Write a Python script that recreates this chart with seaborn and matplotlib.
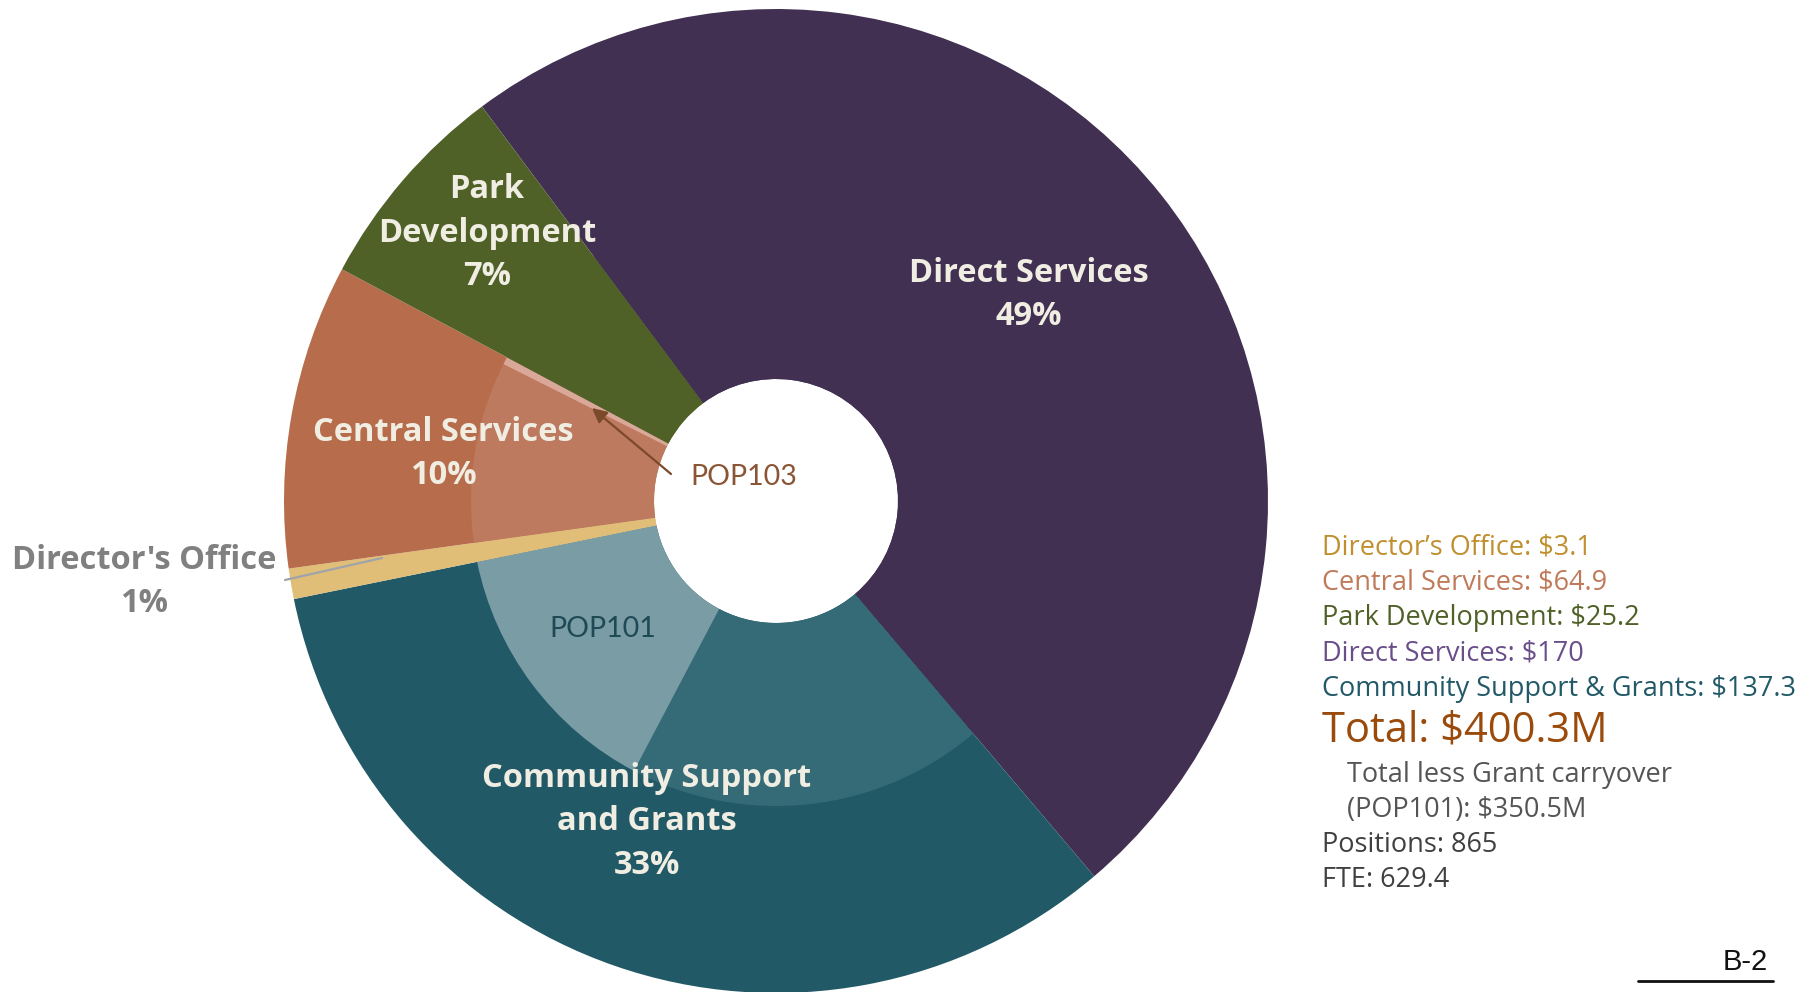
import matplotlib
matplotlib.use("Agg")
import matplotlib.pyplot as plt
import seaborn as sns

# ---- data -------------------------------------------------------------
programs = ["Direct Services", "Community Support\nand Grants", "Director's Office",
            "Central Services", "Park Development"]
shares = [49, 33, 1, 10, 7]                      # percent of total, clockwise order

# inner ring: sub-programs split out of their parent slice (percent of total)
inner_names = ["Direct Services", "Community Support (other)", "POP101",
               "Director's Office", "Central Services (other)", "POP103", "Park Development"]
inner_shares = [49, 18.9, 14.1, 1, 9.6, 0.4, 7]

budget_names = ["Director’s Office", "Central Services", "Park Development",
                "Direct Services", "Community Support & Grants"]
budget_values = [3.1, 64.9, 25.2, 170, 137.3]    # $ millions
total_budget = 400.3
total_less_carryover = 350.5
positions = 865
fte = 629.4

# ---- styling ----------------------------------------------------------
sns.set_theme(style="white")
plt.rcParams["font.family"] = ["Open Sans", "DejaVu Sans"]

outer_colors = ["#413052", "#225967", "#e0be78", "#b76d4c", "#506128"]
inner_colors = ["#413052", "#356a77", "#7a9ca5", "#e0be78", "#be7a5e", "#d9a898", "#506128"]
budget_colors = ["#c0902f", "#c07a5a", "#506128", "#6a4e8a", "#225967"]
label_color = "#f0ede3"

W, H = 1819, 992
fig = plt.figure(figsize=(W / 100, H / 100), dpi=100)
ax = fig.add_axes([0, 0, 1, 1])


def px(x, y):
    """Pixel position measured from the top-left corner -> data coords."""
    return x, H - y


cx, cy = px(776, 501)
R_out, R_mid, R_hole = 492, 305, 122

# outer ring runs all the way to the hole; inner ring is laid on top of it
ax.pie(shares, colors=outer_colors, radius=R_out, center=(cx, cy),
       startangle=126.7, counterclock=False,
       wedgeprops=dict(width=R_out - R_hole, linewidth=0))
ax.pie(inner_shares, colors=inner_colors, radius=R_mid, center=(cx, cy),
       startangle=126.7, counterclock=False,
       wedgeprops=dict(width=R_mid - R_hole, linewidth=0))

ax.set_xlim(0, W)
ax.set_ylim(0, H)
ax.set_aspect("equal")
ax.axis("off")

# ---- slice labels -----------------------------------------------------
lab_kw = dict(ha="center", va="center", fontsize=23.5, fontweight="bold",
              linespacing=1.42)
label_pos = {
    "Direct Services": (1029, 295),
    "Community Support\nand Grants": (647, 822),
    "Director's Office": (144, 582),
    "Central Services": (443, 454),
    "Park Development": (487, 233),
}
label_text = {
    "Park Development": "Park\nDevelopment",
}
for name, share in zip(programs, shares):
    txt = f"{label_text.get(name, name)}\n{share}%"
    color = "#808080" if name == "Director's Office" else label_color
    ax.text(*px(*label_pos[name]), txt, color=color, **lab_kw)

# leader line for the thin Director's Office slice
x0, y0 = px(285, 580)
x1, y1 = px(382, 558)
ax.plot([x0, x1], [y0, y1], color="#a0a4aa", lw=1.6, solid_capstyle="round")

# sub-program labels
ax.text(*px(603, 629), "POP101", ha="center", va="center", fontsize=20.5,
        color="#1e4a56", family=["Lato", "DejaVu Sans"])
ax.text(*px(690, 477), "POP103", ha="left", va="center", fontsize=20.5,
        color="#8a5535", family=["Lato", "DejaVu Sans"])
ax.annotate("", xy=px(592, 408), xytext=px(671, 474),
            arrowprops=dict(arrowstyle="-|>", color="#7a4a2a", lw=1.6,
                            mutation_scale=22, shrinkA=0, shrinkB=0))

# ---- budget summary ---------------------------------------------------
fs = 19.5
x_txt = 1322
y = 547
for name, val, col in zip(budget_names, budget_values, budget_colors):
    ax.text(*px(x_txt, y), f"{name}: ${val:g}", color=col, fontsize=fs,
            ha="left", va="center")
    y += 35.5
ax.text(*px(x_txt, 731), f"Total: ${total_budget:.1f}M", color="#9a4a0a",
        fontsize=30, ha="left", va="center")
ax.text(*px(1347, 775), "Total less Grant carryover", color="#555555",
        fontsize=fs, ha="left", va="center")
ax.text(*px(1347, 810), f"(POP101): ${total_less_carryover:.1f}M", color="#555555",
        fontsize=fs, ha="left", va="center")
ax.text(*px(x_txt, 845), f"Positions: {positions}", color="#404040",
        fontsize=fs, ha="left", va="center")
ax.text(*px(x_txt, 880), f"FTE: {fte}", color="#404040",
        fontsize=fs, ha="left", va="center")

# page marker
ax.text(*px(1768, 962), "B-2", color="#111111", fontsize=21, ha="right", va="center",
        family=["Liberation Sans", "DejaVu Sans"])
ux0, uy = px(1638, 981)
ux1, _ = px(1773, 981)
ax.plot([ux0, ux1], [uy, uy], color="#111111", lw=2)

fig.savefig("out.png", dpi=100, facecolor="white")
